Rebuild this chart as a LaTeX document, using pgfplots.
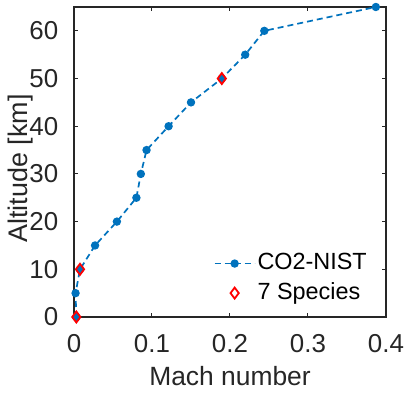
\documentclass[border=0pt]{standalone}
\usepackage{fontspec}
\setmainfont{Liberation Sans}
\usepackage{pgfplots}
\usetikzlibrary{calc}
\pgfplotsset{compat=1.18}
\definecolor{mblue}{rgb}{0,0.447,0.741}
\begin{document}
\fontsize{26}{30}\selectfont
\begin{tikzpicture}
\begin{axis}[
  scale only axis,
  width=312bp, height=310bp,
  xmin=0, xmax=0.4, ymin=0, ymax=65,
  xtick={0,0.1,0.2,0.3,0.4},
  xticklabels={0,0.1,0.2,0.3,0.4},
  ytick={0,10,20,30,40,50,60},
  /pgf/number format/assume math mode=true,
  tick align=inside,
  major tick length=4bp,
  axis line style={line width=1.2bp, black!85},
  tick style={line width=1bp, black!85},
  every tick label/.append style={font=\fontsize{26}{30}\selectfont, text=black!85},
  xlabel={Mach number},
  ylabel={Altitude [km]},
  xlabel style={font=\fontsize{26.5}{30}\selectfont, text=black!85, yshift=4bp},
  ylabel style={font=\fontsize{27}{30}\selectfont, text=black!85, yshift=-21bp, xshift=-6.5bp},
  xticklabel style={yshift=-9bp},
  yticklabel style={xshift=-7bp},
  legend style={draw=none, fill=none, at={(axis description cs:0.955,0.03)}, anchor=south east,
    font=\fontsize{23.5}{28}\selectfont, row sep=5bp, text=black},
  legend cell align=left,
  legend image code/.code={\draw[mark repeat=2,mark phase=2] plot coordinates {(0bp,0bp) (20bp,0bp) (40bp,0bp)};},
]
\addplot[mblue, line width=1.7bp, dash pattern=on 6bp off 4bp, mark=*, mark size=3.3bp, mark options={solid, fill=mblue}]
coordinates {
(0.003,0) (0.002,5) (0.0077,10) (0.027,15) (0.055,20) (0.080,25) (0.0857,30) (0.093,35) (0.1213,40) (0.150,45) (0.1895,50) (0.2195,55) (0.244,60) (0.387,65)
};
\addlegendentry{CO2-NIST}
\addplot[only marks, red, line width=1.8bp, mark=diamond, mark size=5.5bp, mark options={solid, fill=white}]
coordinates {
(0.003,0) (0.0077,10) (0.1895,50)
};
\addlegendentry{7 Species}
\end{axis}
\pgfresetboundingbox
\path ($(current axis.south west)+(-74bp,-76bp)$) rectangle ($(current axis.north east)+(21bp,7bp)$);
\end{tikzpicture}
\end{document}
